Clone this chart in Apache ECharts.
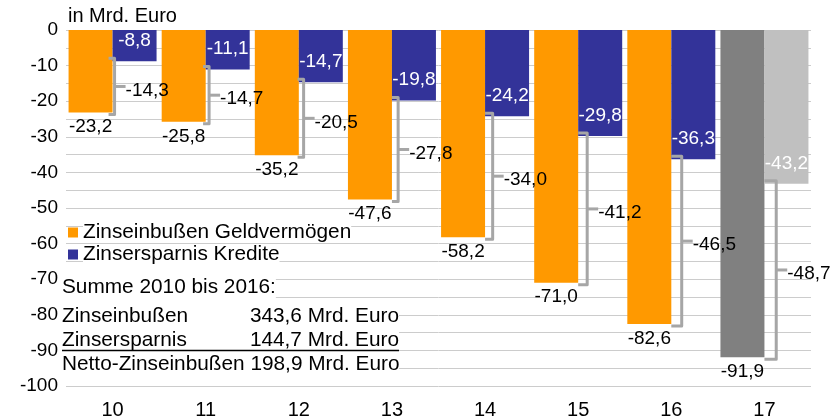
<!DOCTYPE html>
<html>
<head>
<meta charset="utf-8">
<script src="https://cdn.jsdelivr.net/npm/echarts@6/dist/echarts.min.js"></script>
<style>
  html, body { margin: 0; padding: 0; background: #fff; }
  #chart { width: 832px; height: 420px; }
</style>
</head>
<body>
<div id="chart"></div>
<script>
// Jahre 2010 bis 2017 (Achsenbeschriftung)
const categories = ['10', '11', '12', '13', '14', '15', '16', '17'];
// Zinseinbußen Geldvermögen, Mrd. Euro
const geldvermoegen = [-23.2, -25.8, -35.2, -47.6, -58.2, -71.0, -82.6, -91.9];
// Zinsersparnis Kredite, Mrd. Euro
const kredite = [-8.8, -11.1, -14.7, -19.8, -24.2, -29.8, -36.3, -43.2];
// Netto-Zinseinbußen (Klammern)
const netto = [-14.3, -14.7, -20.5, -27.8, -34.0, -41.2, -46.5, -48.7];

const FONT = '"Liberation Sans", Arial, sans-serif';
const fmt = v => Number(v).toFixed(1).replace('.', ',');

// Summen 2010 bis 2016 (ohne Prognose 2017)
const sum = arr => arr.slice(0, 7).reduce((a, b) => a + b, 0);
const sumGeld = Math.abs(sum(geldvermoegen));
const sumKred = Math.abs(sum(kredite));
const sumNetto = sumGeld - sumKred;

const chart = echarts.init(document.getElementById('chart'));

const bracketData = categories.map((c, i) => [i, kredite[i], geldvermoegen[i], netto[i]]);

function renderBracket(params, api) {
  const i = api.value(0);
  const center = api.coord([i, 0])[0];
  const x = center + 2 + 1.4 * i;
  const yTop = api.coord([i, api.value(1)])[1] - 3;
  const yBot = api.coord([i, api.value(2)])[1] + 2;
  const yMid = (yTop + yBot) / 2;
  const left = Math.min(center, x - 6);
  const stroke = '#a6a6a6';
  return {
    type: 'group',
    children: [
      {
        type: 'polyline',
        shape: { points: [[left, yTop], [x, yTop], [x, yBot], [left, yBot]] },
        style: { stroke: stroke, lineWidth: 3, fill: null, lineJoin: 'round' }
      },
      {
        type: 'line',
        shape: { x1: x, y1: yMid, x2: x + 11, y2: yMid },
        style: { stroke: stroke, lineWidth: 3 }
      },
      {
        type: 'text',
        x: x + 11,
        y: yMid + 4,
        style: {
          text: fmt(api.value(3)),
          font: '19px ' + FONT,
          fill: '#000',
          align: 'left',
          verticalAlign: 'middle'
        }
      }
    ]
  };
}

const txt = (text, extra) => Object.assign({ text: text, font: '20.8px ' + FONT, fill: '#000' }, extra || {});

const option = {
  animation: false,
  textStyle: { fontFamily: FONT },
  grid: { left: 66, right: 21, top: 30, bottom: 34 },
  legend: {
    orient: 'vertical',
    left: 68,
    top: 222,
    padding: 0,
    itemWidth: 10,
    itemHeight: 10,
    itemGap: 1,
    icon: 'rect',
    textStyle: { fontSize: 20.8, color: '#000', fontFamily: FONT, backgroundColor: '#fff', padding: [0, 0, 0, 0] },
    data: ['Zinseinbußen Geldvermögen', 'Zinsersparnis Kredite']
  },
  xAxis: {
    type: 'category',
    data: categories,
    position: 'bottom',
    axisLine: { show: false, onZero: false },
    axisTick: { show: false },
    axisLabel: { color: '#000', fontSize: 20, margin: 14, fontFamily: FONT }
  },
  yAxis: {
    type: 'value',
    min: -100,
    max: 0,
    interval: 5,
    axisLine: { show: false },
    axisTick: { show: false },
    axisLabel: {
      color: '#000',
      fontSize: 19,
      margin: 8,
      fontFamily: FONT,
      formatter: v => (v % 10 === 0 ? String(v) : '')
    },
    splitLine: { lineStyle: { color: '#cccccc', width: 1 } }
  },
  graphic: [
    { type: 'text', left: 68, top: 6, style: txt('in Mrd. Euro', { font: '20px ' + FONT }) },
    // weiße Hinterlegung der Summenzeilen
    { type: 'rect', shape: { x: 62, y: 307, width: 337, height: 20 }, style: { fill: '#fff' }, z: 10 },
    { type: 'rect', shape: { x: 62, y: 331, width: 337, height: 18 }, style: { fill: '#fff' }, z: 10 },
    { type: 'rect', shape: { x: 62, y: 355, width: 337, height: 20 }, style: { fill: '#fff' }, z: 10 },
    { type: 'text', left: 62, top: 277, z: 11, style: txt('Summe 2010 bis 2016:', { backgroundColor: '#fff' }) },
    { type: 'text', left: 62, top: 306, z: 11, style: txt('Zinseinbußen') },
    { type: 'text', right: 832 - 399, top: 306, z: 11, style: txt(fmt(sumGeld) + ' Mrd. Euro', { align: 'right' }) },
    { type: 'text', left: 62, top: 330, z: 11, style: txt('Zinsersparnis') },
    { type: 'text', right: 832 - 399, top: 330, z: 11, style: txt(fmt(sumKred) + ' Mrd. Euro', { align: 'right' }) },
    { type: 'text', left: 62, top: 354, z: 11, style: txt('Netto-Zinseinbußen ' + fmt(sumNetto) + ' Mrd. Euro') },
    {
      type: 'line', z: 12,
      shape: { x1: 62, y1: 350.5, x2: 399, y2: 350.5 },
      style: { stroke: '#000', lineWidth: 1.5 }
    }
  ],
  series: [
    {
      name: 'Zinseinbußen Geldvermögen',
      type: 'bar',
      barWidth: 44,
      barGap: '0%',
      itemStyle: { color: '#ff9900' },
      data: geldvermoegen.map((v, i) => i === 7 ? { value: v, itemStyle: { color: '#808080' } } : v),
      label: {
        show: true,
        position: 'bottom',
        distance: 5,
        color: '#000',
        fontSize: 19,
        fontFamily: FONT,
        formatter: p => fmt(p.value)
      }
    },
    {
      name: 'Zinsersparnis Kredite',
      type: 'bar',
      barWidth: 44,
      barGap: '0%',
      itemStyle: { color: '#333399' },
      data: kredite.map((v, i) => i === 7 ? { value: v, itemStyle: { color: '#c0c0c0' } } : v),
      label: {
        show: true,
        position: 'insideBottom',
        distance: 11,
        color: '#fff',
        fontSize: 19,
        fontFamily: FONT,
        formatter: p => fmt(p.value)
      }
    },
    {
      name: 'Netto',
      type: 'custom',
      renderItem: renderBracket,
      data: bracketData,
      encode: { x: 0, y: [1, 2] },
      z: 5,
      silent: true
    }
  ]
};

chart.setOption(option);
</script>
</body>
</html>
